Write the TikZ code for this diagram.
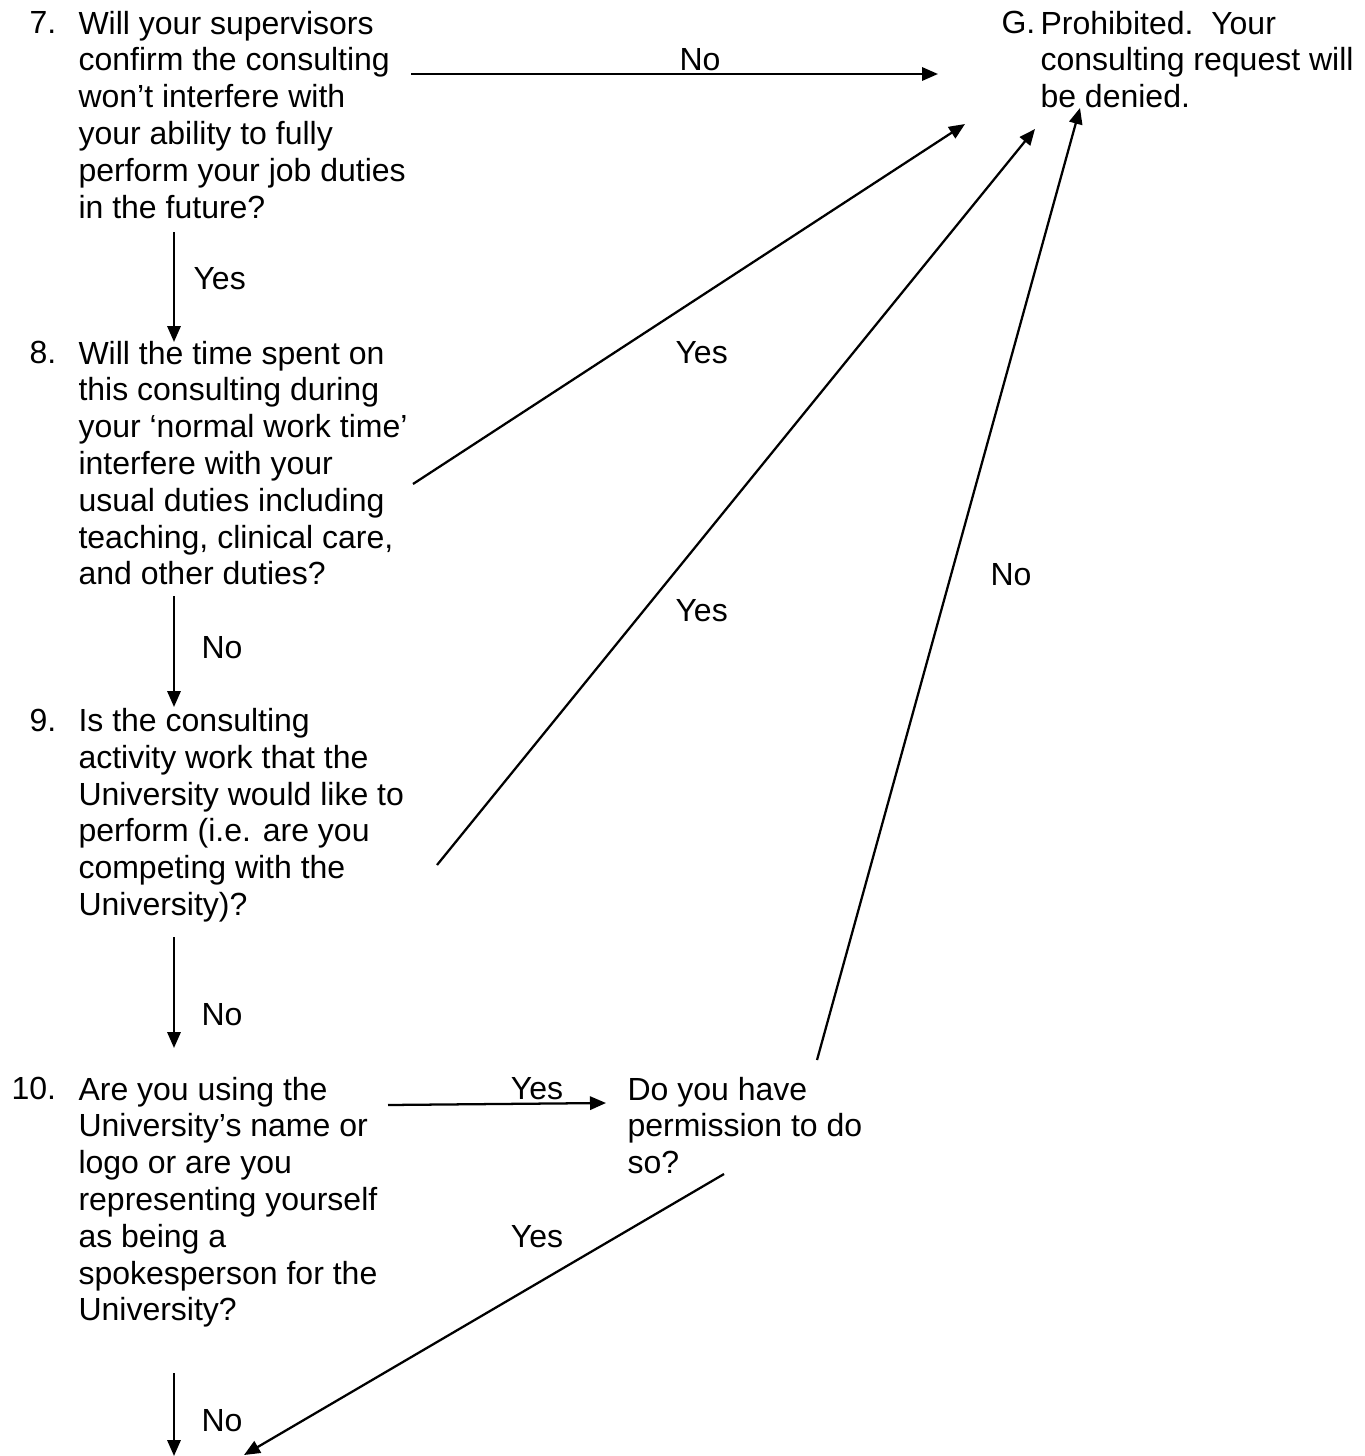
\documentclass[tikz,border=0pt]{standalone}
\usepackage{fontspec}
\setmainfont{Liberation Sans}
\usetikzlibrary{arrows.meta}
\newcommand{\toprl}{\rule{0pt}{10pt}}
\begin{document}
\begin{tikzpicture}[x=0.375pt,y=-0.375pt,
  txt/.style={anchor=north west, inner sep=0pt, align=left, font=\fontsize{12}{13.8}\selectfont},
  lbl/.style={anchor=base west, inner sep=0pt, font=\fontsize{12}{13.8}\selectfont},
  clbl/.style={anchor=base, inner sep=0pt, font=\fontsize{12}{13.8}\selectfont},
  arr/.style={line width=0.85pt, -{Triangle[length=6pt,width=5pt]}}]
\useasboundingbox (0,0) rectangle (1365,1456);
% question texts
\node[lbl] (n7) at (29,33.5) {7.};
\node[txt] (q7) at (78,6.83) {\toprl Will your supervisors\\confirm the consulting\\won’t interfere with\\your ability to fully\\perform your job duties\\in the future?};
\node[lbl] (n8) at (29,363.5) {8.};
\node[txt] (q8) at (78,336.8) {\toprl Will the time spent on\\this consulting during\\your ‘normal work time’\\interfere with your\\usual duties including\\teaching, clinical care,\\and other duties?};
\node[lbl] (n9) at (29,731) {9.};
\node[txt] (q9) at (78,704.3) {\toprl Is the consulting\\activity work that the\\University would like to\\perform (i.e. are you\\competing with the\\University)?};
\node[lbl] (n10) at (11,1099.5) {10.};
\node[txt] (q10) at (78,1072.8) {\toprl Are you using the\\University’s name or\\logo or are you\\representing yourself\\as being a\\spokesperson for the\\University?};
\node[lbl] (nG) at (1001,33.5) {G.};
\node[txt] (g) at (1040,6.83) {\toprl Prohibited.\ \ Your\\consulting request will\\be denied.};
\node[txt] (perm) at (627,1072.8) {\toprl Do you have\\permission to do\\so?};
% connector end points
\coordinate (a1s) at (411,74);   \coordinate (a1e) at (938,74);
\coordinate (a2s) at (174,232);  \coordinate (a2e) at (174,342);
\coordinate (a3s) at (413,484);  \coordinate (a3e) at (965,124);
\coordinate (a4s) at (174,596);  \coordinate (a4e) at (174,707);
\coordinate (a5s) at (437,865);  \coordinate (a5e) at (1035,129);
\coordinate (a6s) at (174,937);  \coordinate (a6e) at (174,1048);
\coordinate (a7s) at (388,1105); \coordinate (a7e) at (606,1103);
\coordinate (a8s) at (817,1060); \coordinate (a8e) at (1080,108);
\coordinate (a9s) at (724,1174); \coordinate (a9e) at (244,1455);
\coordinate (a10s) at (174,1373); \coordinate (a10e) at (174,1456);
% connectors
\draw[arr] (a1s) -- (a1e);
\draw[arr] (a2s) -- (a2e);
\draw[arr] (a3s) -- (a3e);
\draw[arr] (a4s) -- (a4e);
\draw[arr] (a5s) -- (a5e);
\draw[arr] (a6s) -- (a6e);
\draw[arr] (a7s) -- (a7e);
\draw[arr] (a8s) -- (a8e);
\draw[arr] (a9s) -- (a9e);
\draw[arr] (a10s) -- (a10e);
% labels
\node[clbl] (l1) at (700,70.5) {No};
\node[lbl] (l2) at (193,289) {Yes};
\node[lbl] (l3) at (675,363) {Yes};
\node[lbl] (l4) at (675,621) {Yes};
\node[lbl] (l5) at (990,585) {No};
\node[lbl] (l6) at (201,658) {No};
\node[lbl] (l7) at (201,1025) {No};
\node[clbl] (l8) at (537,1099.5) {Yes};
\node[clbl] (l9) at (537,1247.5) {Yes};
\node[lbl] (l10) at (201,1431.5) {No};
\end{tikzpicture}
\end{document}
